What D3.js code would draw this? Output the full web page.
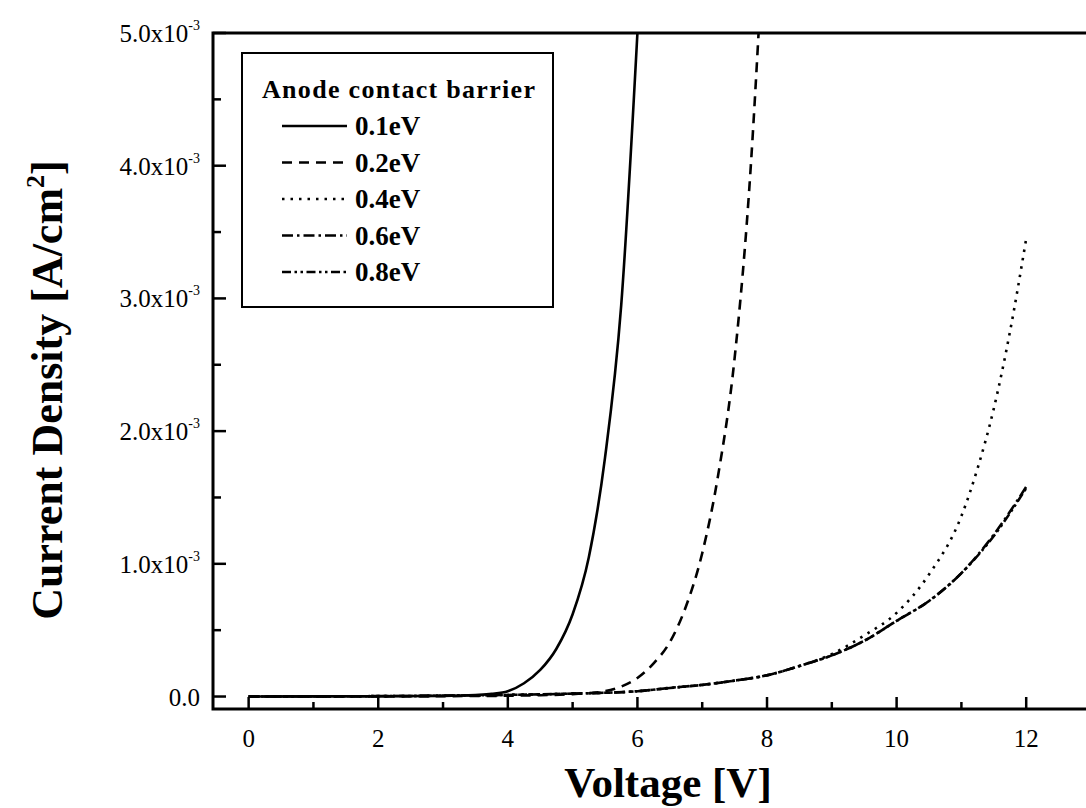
<!DOCTYPE html>
<html>
<head>
<meta charset="utf-8">
<script src="https://cdn.jsdelivr.net/npm/d3@7"></script>
<style>
  body { margin: 0; background: #fff; }
  svg { display: block; }
  text { font-family: "Liberation Serif", "Times New Roman", serif; fill: #000; }
</style>
</head>
<body>
<div id="chart"></div>
<script>
// current density in units of 1e-3 A/cm^2, voltage in V
const v01 = [0, 1, 2, 3, 3.5, 3.75, 4, 4.25, 4.5, 4.75, 5, 5.25, 5.5, 5.75, 6];
const j01 = [0, 0.001, 0.002, 0.005, 0.012, 0.02, 0.04, 0.1, 0.2, 0.36, 0.62, 1.05, 1.8, 2.95, 5.0];

const v02 = [0, 1, 2, 3, 4, 4.5, 5, 5.5, 5.75, 6, 6.25, 6.5, 6.75, 7, 7.25, 7.5, 7.75, 7.87];
const j02 = [0, 0.001, 0.001, 0.003, 0.006, 0.01, 0.018, 0.04, 0.075, 0.14, 0.25, 0.41, 0.68, 1.08, 1.68, 2.55, 4.0, 5.0];

const v04 = [0, 1, 2, 3, 4, 5, 6, 6.5, 7, 7.5, 8, 8.5, 9, 9.5, 10, 10.5, 11, 11.25, 11.5, 11.75, 12];
const j04 = [0, 0.001, 0.003, 0.006, 0.012, 0.022, 0.04, 0.065, 0.088, 0.12, 0.16, 0.23, 0.32, 0.46, 0.63, 0.92, 1.36, 1.72, 2.17, 2.75, 3.45];

const v06 = [0, 1, 2, 3, 4, 5, 6, 6.5, 7, 7.5, 8, 8.5, 9, 9.5, 10, 10.5, 11, 11.5, 12];
const j06 = [0, 0.001, 0.003, 0.006, 0.012, 0.022, 0.04, 0.065, 0.088, 0.12, 0.16, 0.23, 0.31, 0.42, 0.57, 0.72, 0.93, 1.22, 1.58];

const v08 = [0, 1, 2, 3, 4, 5, 6, 6.5, 7, 7.5, 8, 8.5, 9, 9.5, 10, 10.5, 11, 11.5, 12];
const j08 = [0, 0.001, 0.003, 0.006, 0.012, 0.022, 0.04, 0.064, 0.087, 0.12, 0.16, 0.23, 0.31, 0.42, 0.57, 0.72, 0.93, 1.21, 1.57];

const seriesNames = ["0.1eV", "0.2eV", "0.4eV", "0.6eV", "0.8eV"];
const legendTitle = "Anode contact barrier";

const xTicks = [0, 2, 4, 6, 8, 10, 12];
const xMinorTicks = [1, 3, 5, 7, 9, 11];
const yTicks = [0, 1, 2, 3, 4, 5];
const yTickMantissa = ["0.0", "1.0x10", "2.0x10", "3.0x10", "4.0x10", "5.0x10"];
const yTickExponent = ["", "-3", "-3", "-3", "-3", "-3"];
const yMinorTicks = [0.5, 1.5, 2.5, 3.5, 4.5];

const width = 1086, height = 808;
const margin = { left: 213, right: 1091, top: 33, bottom: 709 };

const svg = d3.select("#chart").append("svg")
    .attr("width", width)
    .attr("height", height);

const x = d3.scaleLinear().domain([-0.55, 13]).range([margin.left, margin.right]);
const y = d3.scaleLinear().domain([-0.094, 5]).range([margin.bottom, margin.top]);

const dashes = [null, "10,7", "2.5,6", "11,4,2.5,4", "9,3.5,2.5,3.5,2.5,3.5"];

const series = [
    { v: v01, j: j01 },
    { v: v02, j: j02 },
    { v: v04, j: j04 },
    { v: v06, j: j06 },
    { v: v08, j: j08 }
];

svg.append("clipPath").attr("id", "plot")
  .append("rect")
    .attr("x", margin.left).attr("y", margin.top)
    .attr("width", margin.right - margin.left).attr("height", margin.bottom - margin.top);

const line = d3.line()
    .x(d => x(d[0]))
    .y(d => y(d[1]))
    .curve(d3.curveMonotoneX);

const g = svg.append("g").attr("clip-path", "url(#plot)");
series.forEach((s, i) => {
    g.append("path")
        .datum(s.v.map((v, k) => [v, s.j[k]]))
        .attr("fill", "none")
        .attr("stroke", "#000")
        .attr("stroke-width", 2.6)
        .attr("stroke-dasharray", dashes[i])
        .attr("d", line);
});

// frame
svg.append("path")
    .attr("d", `M${margin.right},${margin.top}H${margin.left}V${margin.bottom}H${margin.right}`)
    .attr("fill", "none")
    .attr("stroke", "#000")
    .attr("stroke-width", 3);

// x axis ticks (inward)
const xAxis = svg.append("g");
xAxis.selectAll(".major").data(xTicks).enter().append("line")
    .attr("x1", d => x(d)).attr("x2", d => x(d))
    .attr("y1", margin.bottom).attr("y2", margin.bottom - 12)
    .attr("stroke", "#000").attr("stroke-width", 2.5);
xAxis.selectAll(".minor").data(xMinorTicks).enter().append("line")
    .attr("x1", d => x(d)).attr("x2", d => x(d))
    .attr("y1", margin.bottom).attr("y2", margin.bottom - 7)
    .attr("stroke", "#000").attr("stroke-width", 2.5);
xAxis.selectAll("text").data(xTicks).enter().append("text")
    .attr("x", d => x(d))
    .attr("y", 747)
    .attr("text-anchor", "middle")
    .style("font-size", "25px")
    .text(d => d);

// y axis ticks (inward)
const yAxis = svg.append("g");
yAxis.selectAll(".major").data(yTicks).enter().append("line")
    .attr("x1", margin.left).attr("x2", margin.left + 13)
    .attr("y1", d => y(d)).attr("y2", d => y(d))
    .attr("stroke", "#000").attr("stroke-width", 2.5);
yAxis.selectAll(".minor").data(yMinorTicks).enter().append("line")
    .attr("x1", margin.left).attr("x2", margin.left + 8)
    .attr("y1", d => y(d)).attr("y2", d => y(d))
    .attr("stroke", "#000").attr("stroke-width", 2.5);
const yLabels = yAxis.selectAll("text").data(yTicks).enter().append("text")
    .attr("x", 200)
    .attr("y", d => y(d) + 9)
    .attr("text-anchor", "end")
    .style("font-size", "25px");
yLabels.append("tspan").text((d, i) => yTickMantissa[i]);
yLabels.append("tspan")
    .attr("dy", -12)
    .style("font-size", "14px")
    .text((d, i) => yTickExponent[i]);

// axis titles
svg.append("text")
    .attr("x", 668)
    .attr("y", 797)
    .attr("text-anchor", "middle")
    .style("font-size", "43px")
    .style("font-weight", "bold")
    .text("Voltage [V]");

const yTitle = svg.append("text")
    .attr("transform", "translate(62,390) rotate(-90)")
    .attr("text-anchor", "middle")
    .style("font-size", "44px")
    .style("font-weight", "bold");
yTitle.append("tspan").text("Current Density [A/cm");
yTitle.append("tspan").attr("dy", -18).style("font-size", "26px").text("2");
yTitle.append("tspan").attr("dy", 18).text("]");

// legend
const legend = svg.append("g");
legend.append("rect")
    .attr("x", 242).attr("y", 53)
    .attr("width", 311).attr("height", 254)
    .attr("fill", "#fff")
    .attr("stroke", "#000")
    .attr("stroke-width", 2);
legend.append("text")
    .attr("x", 262).attr("y", 98)
    .style("font-size", "26px")
    .style("font-weight", "bold")
    .style("letter-spacing", "1.3px")
    .text(legendTitle);
seriesNames.forEach((name, i) => {
    const cy = 126 + i * 36.5;
    legend.append("line")
        .attr("x1", 282).attr("x2", 347)
        .attr("y1", cy).attr("y2", cy)
        .attr("stroke", "#000")
        .attr("stroke-width", 2.4)
        .attr("stroke-dasharray", dashes[i]);
    legend.append("text")
        .attr("x", 355).attr("y", cy + 9)
        .style("font-size", "27px")
        .style("font-weight", "bold")
        .text(name);
});
</script>
</body>
</html>
